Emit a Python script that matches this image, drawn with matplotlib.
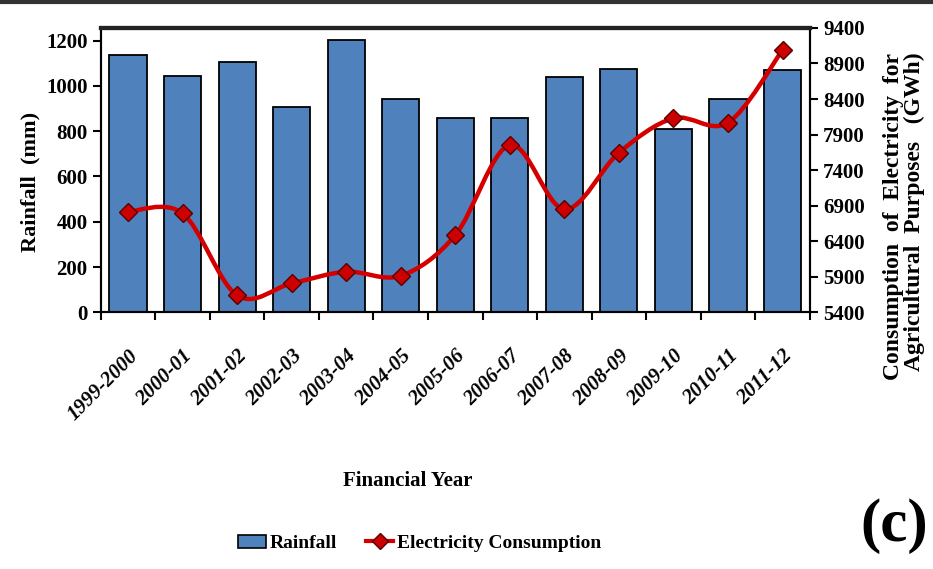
import matplotlib
matplotlib.use("Agg")
import matplotlib.pyplot as plt
from matplotlib.path import Path
from matplotlib.patches import PathPatch
from matplotlib.lines import Line2D

years = ["1999-2000", "2000-01", "2001-02", "2002-03", "2003-04", "2004-05",
         "2005-06", "2006-07", "2007-08", "2008-09", "2009-10", "2010-11", "2011-12"]
rainfall = [1137, 1045, 1105, 906, 1203, 943, 857, 857, 1038, 1074, 810, 941, 1071]
electricity = [6815, 6792, 5639, 5808, 5971, 5915, 6487, 7753, 6849, 7645, 8129, 8067, 9089]

plt.rcParams["font.family"] = ["Liberation Serif", "DejaVu Serif"]
plt.rcParams["font.weight"] = "bold"

fig = plt.figure(figsize=(9.33, 5.69), dpi=100)
ax = fig.add_axes([0.108, 0.451, 0.760, 0.500])
ax2 = ax.twinx()

x = list(range(len(years)))
bar_color = "#4f81bd"
ax.bar(x, rainfall, width=0.68, color=bar_color, edgecolor="black", linewidth=1.3,
       label="Rainfall", zorder=2)
ax.set_xlim(-0.5, len(years) - 0.5)
ax.set_ylim(0, 1256)
ax.set_yticks(range(0, 1201, 200))
ax.set_xticks([i - 0.5 for i in range(len(years) + 1)], minor=False)
ax.set_xticklabels([])
ax.set_xticks(x, minor=True)
ax.set_xticklabels(years, minor=True, rotation=45, ha="right", rotation_mode="anchor",
                   fontsize=15, fontweight="bold", fontstyle="italic")
ax.tick_params(axis="x", which="minor", length=0, pad=24)
ax.tick_params(axis="x", which="major", length=6, width=1.5, direction="out")
ax.tick_params(axis="y", length=6, width=1.5, labelsize=15, direction="out")

fig.text(0.033, 0.68, "Rainfall  (mm)", rotation=90, fontsize=16, fontweight="bold",
         ha="center", va="center")
fig.text(0.437, 0.155, "Financial Year", fontsize=15, fontweight="bold",
         ha="center", va="center")

for s in ax.spines.values():
    s.set_linewidth(1.5)
ax.spines["top"].set_linewidth(3)
ax.spines["top"].set_color("#222222")

# smooth line (Catmull-Rom style Bezier through the data points)
pts = list(zip(x, electricity))
verts = [pts[0]]
codes = [Path.MOVETO]
n = len(pts)
for i in range(n - 1):
    p0 = pts[i - 1] if i > 0 else pts[i]
    p1 = pts[i]
    p2 = pts[i + 1]
    p3 = pts[i + 2] if i + 2 < n else pts[i + 1]
    c1 = (p1[0] + (p2[0] - p0[0]) / 6, p1[1] + (p2[1] - p0[1]) / 6)
    c2 = (p2[0] - (p3[0] - p1[0]) / 6, p2[1] - (p3[1] - p1[1]) / 6)
    verts += [c1, c2, p2]
    codes += [Path.CURVE4] * 3
ax2.add_patch(PathPatch(Path(verts, codes), facecolor="none", edgecolor="#d40000",
                        linewidth=3.2, zorder=3))
ax2.plot(x, electricity, linestyle="none", marker="D", markersize=9,
         markerfacecolor="#cc0000", markeredgecolor="#5a0000", markeredgewidth=1, zorder=4)
ax2.set_ylim(5400, 9400)
ax2.set_yticks(range(5400, 9401, 500))
ax2.tick_params(axis="y", length=6, width=1.5, labelsize=15, direction="out")
fig.text(0.969, 0.62, "Consumption  of  Electricity  for\nAgricultural  Purposes   (GWh)",
         rotation=90, fontsize=17, fontweight="bold", ha="center", va="center",
         linespacing=1.0, multialignment="right")
for s in ax2.spines.values():
    s.set_linewidth(1.5)
ax2.spines["top"].set_linewidth(3)
ax2.spines["top"].set_color("#222222")

handles = [
    plt.Rectangle((0, 0), 1, 1, facecolor=bar_color, edgecolor="black", linewidth=1.2),
    Line2D([], [], color="#d40000", linewidth=3, marker="D", markersize=8,
           markerfacecolor="#cc0000", markeredgecolor="#5a0000"),
]
fig.legend(handles, ["Rainfall", "Electricity Consumption"], loc="center",
           bbox_to_anchor=(0.45, 0.045), ncol=2, frameon=False, fontsize=14,
           handlelength=1.4, handletextpad=0.2, columnspacing=1.5)

fig.text(0.958, 0.075, "(c)", fontsize=44, fontweight="bold", ha="center", va="center")

# border line at very top of the picture
fig.add_artist(Line2D([0, 1], [0.996, 0.996], transform=fig.transFigure,
                      color="#333333", linewidth=3))

fig.savefig("out.png", dpi=100)
